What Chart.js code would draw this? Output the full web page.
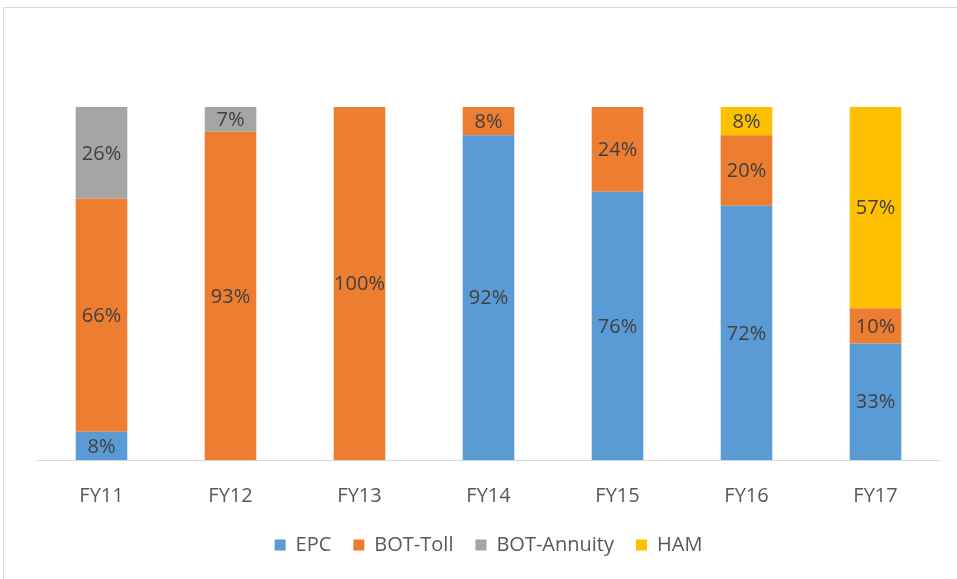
<!DOCTYPE html>
<html>
<head>
<meta charset="utf-8">
<script src="https://cdn.jsdelivr.net/npm/chart.js@4"></script>
<style>
  html, body { margin: 0; padding: 0; background: #fff; overflow: hidden; }
  #frame { position: absolute; left: 3px; top: 7px; width: 1000px; height: 700px; border: 1px solid #d9d9d9; }
  canvas { position: absolute; left: 0; top: 0; }
</style>
</head>
<body>
<div id="frame"></div>
<canvas id="chart" width="957" height="579"></canvas>
<script>
/* stacked share of order book by year */

const YEARS = ["FY11", "FY12", "FY13", "FY14", "FY15", "FY16", "FY17"];
const EPC = [8, 0, 0, 92, 76, 72, 33];
const BOT_TOLL = [66, 93, 100, 8, 24, 20, 10];
const BOT_ANNUITY = [26, 7, 0, 0, 0, 0, 0];
const HAM = [0, 0, 0, 0, 0, 8, 57];

const FONT = "'Open Sans', 'Liberation Sans', sans-serif";

// draws "x%" in the middle of every non-empty segment
const segLabels = {
  id: "segLabels",
  afterDatasetsDraw(chart) {
    const ctx = chart.ctx;
    ctx.save();
    ctx.font = `20px ${FONT}`;
    ctx.fillStyle = "#404040";
    ctx.textAlign = "center";
    ctx.textBaseline = "middle";
    chart.data.datasets.forEach((ds, di) => {
      chart.getDatasetMeta(di).data.forEach((bar, i) => {
        const v = ds.data[i];
        if (!v) return;
        const mid = (bar.y + bar.base) / 2;
        ctx.fillText(v + "%", bar.x, mid + 1);
      });
    });
    ctx.restore();
  },
};

const mk = (label, data, color) => ({
  label, data,
  backgroundColor: color,
  borderWidth: 0,
  categoryPercentage: 1,
  barPercentage: 0.4,
});

new Chart(document.getElementById("chart").getContext("2d"), {
  type: "bar",
  data: {
    labels: YEARS,
    datasets: [
      mk("EPC", EPC, "#5b9bd5"),
      mk("BOT-Toll", BOT_TOLL, "#ed7d31"),
      mk("BOT-Annuity", BOT_ANNUITY, "#a5a5a5"),
      mk("HAM", HAM, "#ffc000"),
    ],
  },
  options: {
    responsive: false,
    animation: false,
    layout: { padding: { left: 37, right: 17, top: 107, bottom: 14 } },
    plugins: {
      tooltip: { enabled: false },
      legend: {
        position: "bottom",
        labels: {
          boxWidth: 11, boxHeight: 11, padding: 22,
          color: "#595959",
          font: { family: FONT, size: 20 },
        },
      },
    },
    scales: {
      x: {
        stacked: true,
        grid: { display: false },
        border: { color: "#d9d9d9", width: 1 },
        ticks: { color: "#595959", font: { family: FONT, size: 20 }, padding: 16 },
        afterFit: (s) => { s.height = 53; },
      },
      y: {
        stacked: true,
        display: false,
        min: 0, max: 100,
      },
    },
  },
  plugins: [segLabels],
});
</script>
</body>
</html>
